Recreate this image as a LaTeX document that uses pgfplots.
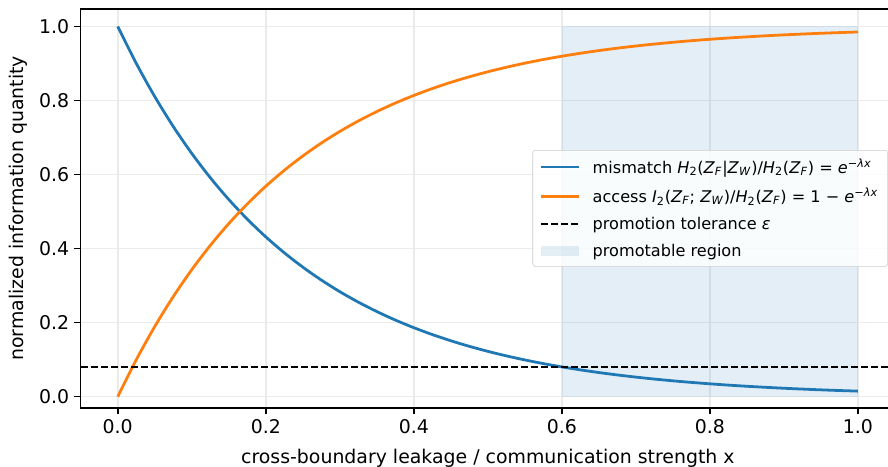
\documentclass[border=0pt]{standalone}
\usepackage{pgfplots}
\usepackage{pgfplotstable}
\pgfplotsset{compat=1.18}
\usepackage{fontspec}
\setmainfont{DejaVu Sans}
\definecolor{tabblue}{HTML}{1F77B4}
\definecolor{taborange}{HTML}{FF7F0E}
\definecolor{gridc}{RGB}{235,235,235}
\pgfplotstableread{
x m a
0.000 1.00000 0.00000
0.025 0.90032 0.09968
0.050 0.81058 0.18942
0.075 0.72979 0.27021
0.100 0.65705 0.34295
0.125 0.59156 0.40844
0.150 0.53259 0.46741
0.175 0.47951 0.52049
0.200 0.43171 0.56829
0.225 0.38868 0.61132
0.250 0.34994 0.65006
0.275 0.31506 0.68494
0.300 0.28365 0.71635
0.325 0.25538 0.74462
0.350 0.22993 0.77007
0.375 0.20701 0.79299
0.400 0.18637 0.81363
0.425 0.16780 0.83220
0.450 0.15107 0.84893
0.475 0.13601 0.86399
0.500 0.12246 0.87754
0.525 0.11025 0.88975
0.550 0.09926 0.90074
0.575 0.08937 0.91063
0.600 0.08046 0.91954
0.625 0.07244 0.92756
0.650 0.06522 0.93478
0.675 0.05872 0.94128
0.700 0.05287 0.94713
0.725 0.04760 0.95240
0.750 0.04285 0.95715
0.775 0.03858 0.96142
0.800 0.03474 0.96526
0.825 0.03127 0.96873
0.850 0.02816 0.97184
0.875 0.02535 0.97465
0.900 0.02282 0.97718
0.925 0.02055 0.97945
0.950 0.01850 0.98150
0.975 0.01666 0.98334
1.000 0.01500 0.98500
}\curves
\newcommand{\mi}[1]{\textit{#1}}
\begin{document}
\begin{tikzpicture}
\begin{axis}[
  scale only axis,
  width=586pt, height=287pt,
  xmin=-0.05, xmax=1.05,
  ymin=-0.03, ymax=1.047,
  xtick={0,0.2,0.4,0.6,0.8,1.0},
  ytick={0,0.2,0.4,0.6,0.8,1.0},
  /pgf/number format/assume math mode=true,
  /pgf/number format/.cd, fixed, fixed zerofill, precision=1, /pgfplots/.cd,
  tick label style={font=\fontsize{13.6}{16}\selectfont},
  label style={font=\fontsize{13.6}{16}\selectfont},
  xlabel style={at={(axis description cs:0.5,-0.1254)}, anchor=center},
  ylabel style={at={(axis description cs:-0.0768,0.5)}, anchor=center},
  tick pos=left,
  tick align=outside,
  major tick length=4.8pt,
  tick style={black, line width=1.1pt},
  axis line style={line width=1.1pt},
  grid=major,
  grid style={gridc, line width=1.1pt},
  xlabel={cross-boundary leakage / communication strength x},
  ylabel={normalized information quantity},
  legend cell align=left,
  legend image code/.code={\draw[#1] (0cm,0cm) -- (0.95cm,0cm); \path (1.2cm,0cm);},
  legend style={at={(rel axis cs:1,0.5)}, anchor=east, xshift=-5pt,
    font=\fontsize{11.6}{14}\selectfont,
    fill=white, fill opacity=0.8, text opacity=1, draw=black!20,
    rounded corners=2pt, row sep=5pt, inner xsep=5pt, inner ysep=4pt},
]
\addplot[fill=tabblue, fill opacity=0.12, draw=none, forget plot]
  coordinates {(0.6,0) (1,0) (1,1) (0.6,1)} -- cycle;
\addplot[tabblue, line width=2pt, smooth] table[x=x, y=m] {\curves};
\addlegendentry{mismatch \mi{H}\textsubscript{2}(\mi{Z}\textsubscript{\mi{F}}|\mi{Z}\textsubscript{\mi{W}})/\mi{H}\textsubscript{2}(\mi{Z}\textsubscript{\mi{F}}) = \mi{e}\textsuperscript{−\mi{λx}}}
\addplot[taborange, line width=2pt, smooth] table[x=x, y=a] {\curves};
\addlegendentry{access \mi{I}\textsubscript{2}(\mi{Z}\textsubscript{\mi{F}}; \mi{Z}\textsubscript{\mi{W}})/\mi{H}\textsubscript{2}(\mi{Z}\textsubscript{\mi{F}}) = 1 − \mi{e}\textsuperscript{−\mi{λx}}}
\addplot[black, line width=1.4pt, dash pattern=on 5pt off 2.2pt] coordinates {(-0.05,0.08) (1.05,0.08)};
\addlegendentry{promotion tolerance \mi{ε}}
\addlegendimage{legend image code/.code={\path[fill=tabblue, fill opacity=0.12, draw=none, sharp corners] (0cm,-0.13cm) rectangle (0.95cm,0.13cm); \path (1.2cm,0cm);}}
\addlegendentry{promotable region}
\end{axis}
\pgfresetboundingbox
\useasboundingbox ([xshift=-58.1pt,yshift=-42.5pt]current axis.south west) rectangle ([xshift=-5pt,yshift=6.5pt]current axis.north east);
\end{tikzpicture}
\end{document}
